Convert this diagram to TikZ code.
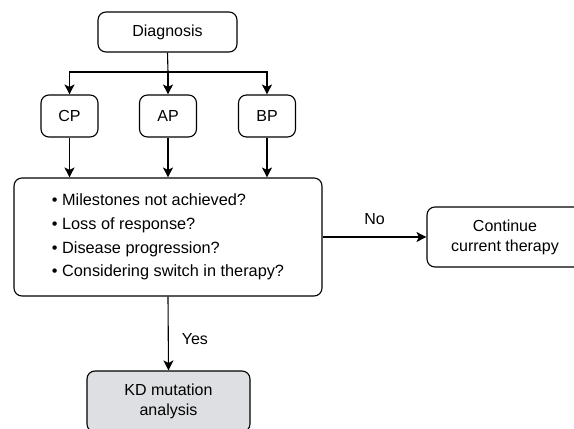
\documentclass[tikz,border=0pt]{standalone}
\usepackage{fontspec}
\setmainfont{Liberation Sans}
\usetikzlibrary{arrows.meta,positioning}
\definecolor{kdgray}{RGB}{222,223,226}
\tikzset{
  box/.style={draw=black, line width=1.1pt, rounded corners=8pt, inner sep=0pt, align=center,
    font=\fontsize{16}{20}\selectfont},
  conn/.style={line width=1.1pt, -{Stealth[length=10pt,width=10pt,inset=2.5pt]}},
  plain/.style={line width=1.1pt},
  lbl/.style={font=\fontsize{16}{20}\selectfont, inner sep=0pt}
}
\begin{document}
\begin{tikzpicture}[x=1pt,y=1pt]
\useasboundingbox (0,0) rectangle (574,-429);
\clip (0,0) rectangle (574,-429);
\node[box, minimum width=139pt, minimum height=40pt] (diag) at (167.5,-32) {Diagnosis};
\node[box, minimum width=57pt, minimum height=42pt] (cp) at (69.5,-116) {CP};
\node[box, minimum width=57pt, minimum height=42pt] (ap) at (168,-116) {AP};
\node[box, minimum width=57pt, minimum height=42pt] (bp) at (267,-116) {BP};
\node[box, minimum width=308pt, minimum height=118pt, font=\fontsize{16.3}{23.7}\selectfont, align=left] (main) at (168,-237)
  {\textbullet\ Milestones not achieved?\\
   \textbullet\ Loss of response?\\
   \textbullet\ Disease progression?\\
   \textbullet\ Considering switch in therapy?};
\node[box, minimum width=156pt, minimum height=60pt] (cont) at (505,-237) {Continue\\current therapy};
\node[box, fill=kdgray, minimum width=163pt, minimum height=61pt] (kd) at (168.5,-401.5) {KD mutation\\analysis};
\coordinate (junc) at (168,-72);
\draw[plain] (diag.south) -- (junc);
\draw[conn] (junc) -- (ap.north);
\draw[conn] (junc) -| (cp.north);
\draw[conn] (junc) -| (bp.north);
\draw[conn] (cp.south) -- (cp.south |- main.north);
\draw[conn] (ap.south) -- (ap.south |- main.north);
\draw[conn] (bp.south) -- (bp.south |- main.north);
\draw[conn] (main.east) -- node[lbl, above=12pt] {No} (cont.west);
\draw[conn] (main.south) -- node[lbl, pos=0.57, right=13pt] {Yes} (kd.north);
\end{tikzpicture}
\end{document}
